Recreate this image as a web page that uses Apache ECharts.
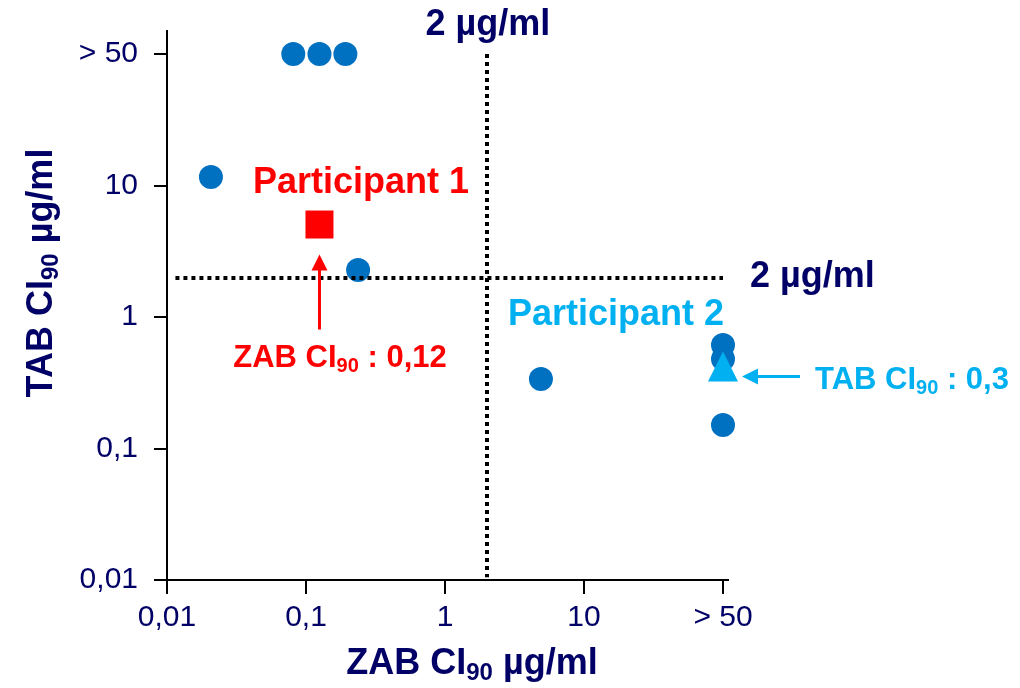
<!DOCTYPE html>
<html>
<head>
<meta charset="utf-8">
<script src="https://cdn.jsdelivr.net/npm/echarts@6/dist/echarts.min.js"></script>
<style>
  html, body { margin: 0; padding: 0; background: #fff; }
  #chart { width: 1020px; height: 688px; }
</style>
</head>
<body>
<div id="chart"></div>
<script>
// isolates (ZAB CI90, TAB CI90) in µg/ml, "> 50" plotted at 100
const zabOthers = [0.081, 0.125, 0.192, 0.0207, 0.237, 4.9, 100, 100, 100];
const tabOthers = [100, 100, 100, 11.6, 2.28, 0.338, 0.613, 0.479, 0.151];
const participant1 = [0.125, 5.05];
const participant2 = [100, 0.42];
const breakpoint = 2;
const tickLabels = { 0.01: '0,01', 0.1: '0,1', 1: '1', 10: '10', 100: '> 50' };

const NAVY = '#000066';
const BLUE = '#0070C0';
const RED = '#FF0000';
const CYAN = '#00B0F0';
const FONT = '"Liberation Sans", Arial, sans-serif';

const myChart = echarts.init(document.getElementById('chart'), null, { renderer: 'canvas' });

function fmt(v) {
    const k = +(+v).toPrecision(3);
    return tickLabels[k] !== undefined ? tickLabels[k] : String(k).replace('.', ',');
}

const axisCommon = {
    type: 'log',
    logBase: 10,
    min: 0.01,
    max: 100,
    axisLine: { show: false },
    axisTick: { show: true, length: 13, lineStyle: { color: '#000', width: 2 } },
    splitLine: { show: false },
    minorTick: { show: false },
    axisLabel: {
        color: NAVY,
        fontFamily: FONT,
        fontSize: 30,
        formatter: fmt
    }
};

const option = {
    animation: false,
    backgroundColor: '#fff',
    grid: { left: 167, right: 297, top: 54, bottom: 108 },
    xAxis: Object.assign({}, axisCommon, {
        axisLabel: Object.assign({}, axisCommon.axisLabel, { margin: 23 }),
        axisTick: { show: true, length: 14, lineStyle: { color: '#000', width: 2 } }
    }),
    yAxis: Object.assign({}, axisCommon, {
        axisLabel: Object.assign({}, axisCommon.axisLabel, { margin: 29 })
    }),
    series: [
        {
            name: 'isolates',
            type: 'scatter',
            symbol: 'circle',
            symbolSize: 24,
            itemStyle: { color: BLUE, opacity: 1 },
            data: zabOthers.map((x, i) => [x, tabOthers[i]]),
            markLine: {
                silent: true,
                symbol: 'none',
                label: { show: false },
                lineStyle: { color: '#000', type: [4, 4], width: 4, opacity: 1 },
                data: [
                    [{ coord: [breakpoint, 100] }, { coord: [breakpoint, 0.0105] }],
                    [{ coord: [0.0115, breakpoint] }, { coord: [100, breakpoint] }]
                ]
            },
            z: 3
        },
        {
            name: 'Participant 1',
            type: 'scatter',
            symbol: 'rect',
            symbolSize: 28,
            itemStyle: { color: RED, opacity: 1 },
            data: [participant1],
            z: 4
        },
        {
            name: 'Participant 2',
            type: 'scatter',
            symbol: 'triangle',
            symbolSize: [30, 30],
            itemStyle: { color: CYAN, opacity: 1 },
            data: [participant2],
            z: 5
        }
    ]
};

myChart.setOption(option);

// annotations positioned from data coordinates
const px = (x, y) => myChart.convertToPixel({ gridIndex: 0 }, [x, y]);
const origin = px(0.01, 0.01);
const corner = px(100, 100);
const p1 = px(participant1[0], participant1[1]);
const p2 = px(participant2[0], participant2[1]);
const vLine = px(breakpoint, 100);
const hLine = px(100, breakpoint);

function sub(color, size) {
    return {
        a: { fill: color, color: color, fontFamily: FONT, fontWeight: 'bold', fontSize: size },
        s: { fill: color, color: color, fontFamily: FONT, fontWeight: 'bold', fontSize: Math.round(size * 0.66), padding: [Math.round(size * 0.5), 0, 0, 0] }
    };
}

myChart.setOption({
    graphic: [
        // axis lines, slightly overshooting the plot as in the original
        { type: 'line', shape: { x1: origin[0] - 13, y1: origin[1], x2: corner[0] + 6, y2: origin[1] }, style: { stroke: '#000', lineWidth: 2 }, z: 10 },
        { type: 'line', shape: { x1: origin[0], y1: corner[1] - 24, x2: origin[0], y2: origin[1] + 14 }, style: { stroke: '#000', lineWidth: 2 }, z: 10 },
        // axis titles
        {
            type: 'text', x: 472, y: 664, z: 10,
            style: { text: '{a|ZAB CI}{s|90}{a| µg/ml}', rich: sub(NAVY, 36), align: 'center', verticalAlign: 'middle' }
        },
        {
            type: 'text', x: 42, y: 273, rotation: Math.PI / 2, z: 10,
            style: { text: '{a|TAB CI}{s|90}{a| µg/ml}', rich: sub(NAVY, 36), align: 'center', verticalAlign: 'middle' }
        },
        // breakpoint labels
        {
            type: 'text', x: vLine[0] + 1, y: vLine[1] - 29, z: 10,
            style: { text: '2 µg/ml', fill: NAVY, font: 'bold 36px ' + FONT, align: 'center', verticalAlign: 'middle' }
        },
        {
            type: 'text', x: hLine[0] + 27, y: hLine[1], z: 10,
            style: { text: '2 µg/ml', fill: NAVY, font: 'bold 36px ' + FONT, align: 'left', verticalAlign: 'middle' }
        },
        // participant labels
        {
            type: 'text', x: 361, y: 183, z: 10,
            style: { text: 'Participant 1', fill: RED, font: 'bold 36px ' + FONT, align: 'center', verticalAlign: 'middle' }
        },
        {
            type: 'text', x: 616, y: 315, z: 10,
            style: { text: 'Participant 2', fill: CYAN, font: 'bold 36px ' + FONT, align: 'center', verticalAlign: 'middle' }
        },
        // red arrow and label
        { type: 'line', shape: { x1: p1[0], y1: p1[1] + 105, x2: p1[0], y2: p1[1] + 42 }, style: { stroke: RED, lineWidth: 3 }, z: 10 },
        { type: 'polygon', shape: { points: [[p1[0], p1[1] + 30], [p1[0] - 8, p1[1] + 46], [p1[0] + 8, p1[1] + 46]] }, style: { fill: RED }, z: 10 },
        {
            type: 'text', x: 340, y: 358, z: 10,
            style: { text: '{a|ZAB CI}{s|90}{a| : 0,12}', rich: sub(RED, 31), align: 'center', verticalAlign: 'middle' }
        },
        // cyan arrow and label
        { type: 'line', shape: { x1: p2[0] + 77, y1: p2[1] + 10, x2: p2[0] + 30, y2: p2[1] + 10 }, style: { stroke: CYAN, lineWidth: 3 }, z: 10 },
        { type: 'polygon', shape: { points: [[p2[0] + 19, p2[1] + 10], [p2[0] + 35, p2[1] + 2], [p2[0] + 35, p2[1] + 18]] }, style: { fill: CYAN }, z: 10 },
        {
            type: 'text', x: 815, y: 380, z: 10,
            style: { text: '{a|TAB CI}{s|90}{a| : 0,3}', rich: sub(CYAN, 31), align: 'left', verticalAlign: 'middle' }
        }
    ]
});

window.addEventListener('resize', function () {
    myChart.resize();
});
</script>
</body>
</html>
